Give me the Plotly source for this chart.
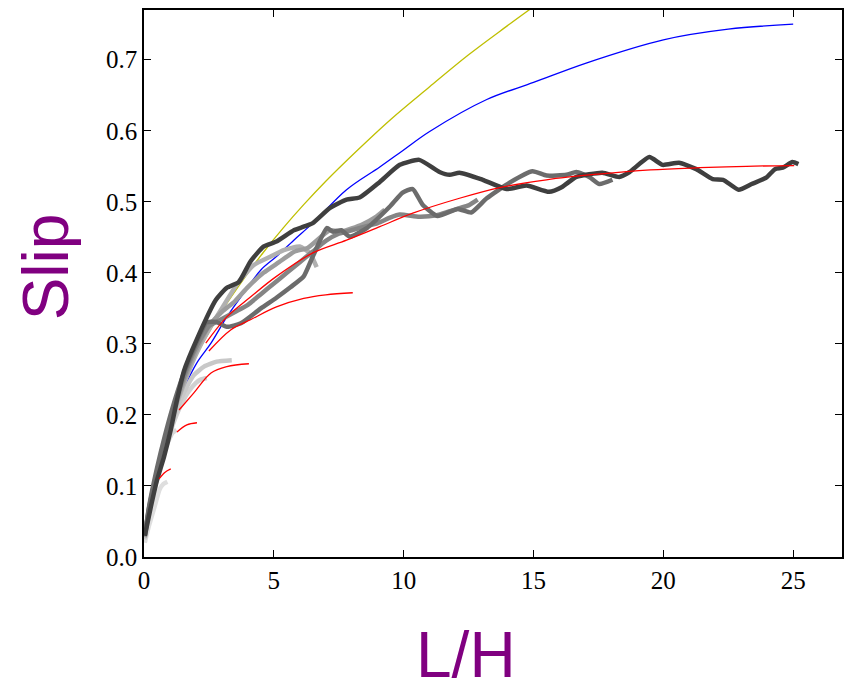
import plotly.graph_objects as go

# ---- data ----
# grey data curves (light -> dark)
g1_x = [0.03, 0.2, 0.4, 0.6, 0.75, 0.9]
g1_y = [0.02, 0.045, 0.07, 0.095, 0.103, 0.106]

g2_x = [0.03, 0.2, 0.4, 0.6, 0.8, 1.0, 1.1, 1.25]
g2_y = [0.025, 0.06, 0.095, 0.125, 0.15, 0.168, 0.175, 0.179]

g3_x = [0.03, 0.2, 0.5, 0.8, 1.1, 1.4, 1.7, 2.0, 2.2, 2.42]
g3_y = [0.025, 0.065, 0.11, 0.15, 0.185, 0.212, 0.232, 0.245, 0.25, 0.252]

g4_x = [0.03, 0.2, 0.5, 0.8, 1.1, 1.4, 1.7, 1.92, 2.31, 2.8, 3.38]
g4_y = [0.025, 0.065, 0.115, 0.155, 0.19, 0.22, 0.243, 0.256, 0.268, 0.275, 0.277]

g5_x = [0.03, 0.2, 0.5, 0.8, 1.1, 1.5, 2.0, 2.5, 3.0, 3.6, 4.23, 4.88, 5.38, 6.0, 6.38, 6.65]
g5_y = [0.028, 0.068, 0.118, 0.16, 0.198, 0.24, 0.285, 0.32, 0.35, 0.385, 0.411, 0.423, 0.432, 0.437, 0.428, 0.408]

g6_x = [0.03, 0.2, 0.5, 0.8, 1.1, 1.5, 2.0, 2.5, 3.0, 3.5, 4.0, 4.6, 5.2, 5.8, 6.3, 7.15, 7.6, 8.4, 8.9, 9.27]
g6_y = [0.028, 0.068, 0.118, 0.16, 0.2, 0.245, 0.29, 0.325, 0.345, 0.36, 0.38, 0.4, 0.415, 0.43, 0.435, 0.46, 0.458, 0.468, 0.478, 0.489]

gB_x = [0.03, 0.2, 0.5, 0.8, 1.1, 1.5, 2.0, 2.5, 3.0, 3.5, 4.0, 4.5, 5.0, 5.5, 6.0, 6.5, 7.0, 7.5, 8.0, 8.5, 9.0, 9.5, 9.85, 10.6, 11.27, 12.15, 12.5, 12.85]
gB_y = [0.03, 0.07, 0.12, 0.165, 0.205, 0.25, 0.295, 0.325, 0.335, 0.345, 0.355, 0.37, 0.385, 0.4, 0.415, 0.43, 0.445, 0.455, 0.46, 0.465, 0.47, 0.478, 0.482, 0.479, 0.481, 0.491, 0.495, 0.503]

gA_x = [0.03, 0.2, 0.5, 0.8, 1.1, 1.5, 2.0, 2.4, 2.77, 3.19, 3.73, 4.5, 5.1, 5.65, 6.15, 6.5, 7.04, 7.27, 7.6, 7.92, 8.58, 9.46, 9.96, 10.35, 10.73, 11.3, 12.08, 12.6, 13.2, 14.08, 14.96, 15.5, 16.27, 16.65, 17.15, 17.54, 18.04]
gA_y = [0.03, 0.072, 0.125, 0.17, 0.21, 0.255, 0.3, 0.33, 0.331, 0.324, 0.329, 0.35, 0.365, 0.38, 0.395, 0.423, 0.463, 0.458, 0.46, 0.451, 0.463, 0.493, 0.513, 0.518, 0.496, 0.48, 0.49, 0.485, 0.505, 0.527, 0.543, 0.537, 0.538, 0.542, 0.535, 0.525, 0.531]

gD_x = [0.03, 0.26, 0.5, 0.77, 1.03, 1.27, 1.54, 2.03, 2.77, 3.19, 3.65, 4.1, 4.6, 5.1, 5.77, 6.15, 6.5, 7.15, 7.8, 8.3, 9.08, 9.85, 10.6, 11.38, 11.77, 12.15, 13.04, 13.96, 14.73, 15.6, 16.1, 16.65, 17.65, 18.3, 18.7, 19.46, 19.97, 20.6, 21.27, 21.9, 22.3, 22.9, 23.4, 23.96, 24.3, 24.6, 24.97, 25.2]
gD_y = [0.03, 0.07, 0.108, 0.141, 0.179, 0.221, 0.262, 0.306, 0.362, 0.379, 0.387, 0.416, 0.437, 0.444, 0.46, 0.465, 0.47, 0.491, 0.503, 0.506, 0.528, 0.552, 0.559, 0.542, 0.538, 0.541, 0.531, 0.518, 0.523, 0.514, 0.521, 0.535, 0.541, 0.535, 0.542, 0.563, 0.552, 0.555, 0.546, 0.532, 0.531, 0.517, 0.525, 0.534, 0.546, 0.548, 0.556, 0.553]

grey_series = [
    (g1_x, g1_y, "#dedede"),
    (g2_x, g2_y, "#d8d8d8"),
    (g3_x, g3_y, "#d0d0d0"),
    (g4_x, g4_y, "#c8c8c8"),
    (g5_x, g5_y, "#b0b0b0"),
    (g6_x, g6_y, "#9c9c9c"),
    (gB_x, gB_y, "#858585"),
    (gA_x, gA_y, "#6c6c6c"),
    (gD_x, gD_y, "#3f3f3f"),
]

# red model curves
r1_x = [0.58, 0.8, 1.03]
r1_y = [0.110, 0.119, 0.124]
r2_x = [1.27, 1.65, 2.04]
r2_y = [0.176, 0.186, 0.189]
r3_x = [1.35, 1.92, 2.58, 3.19, 4.04]
r3_y = [0.207, 0.231, 0.259, 0.268, 0.272]
r4_x = [2.5, 3.35, 4.1, 5.1, 6.15, 7.0, 8.04]
r4_y = [0.29, 0.32, 0.334, 0.352, 0.364, 0.369, 0.372]
r5_x = [2.38, 3.19, 4.1, 5.1, 6.5, 7.8, 9.08, 10.35, 12.15, 13.7, 15.5, 17.5, 19.5, 21.4, 23.2, 25.04]
r5_y = [0.301, 0.338, 0.366, 0.395, 0.428, 0.446, 0.465, 0.484, 0.505, 0.52, 0.531, 0.539, 0.545, 0.548, 0.550, 0.551]
red_series = [(r1_x, r1_y), (r2_x, r2_y), (r3_x, r3_y), (r4_x, r4_y), (r5_x, r5_y)]

# blue model curve
b_x = [1.5, 2.03, 2.58, 3.19, 3.85, 4.5, 5.1, 5.77, 6.5, 7.8, 9.08, 9.96, 11.0, 13.2, 15.0, 17.0, 20.0, 22.5, 25.0]
b_y = [0.235, 0.273, 0.301, 0.338, 0.372, 0.404, 0.423, 0.446, 0.470, 0.517, 0.549, 0.572, 0.599, 0.644, 0.668, 0.695, 0.728, 0.743, 0.750]

# yellow model curve
y_x = [1.5, 2.0, 2.5, 3.08, 3.85, 4.6, 5.38, 6.15, 7.0, 8.23, 9.5, 11.0, 12.5, 14.0, 14.9]
y_y = [0.245, 0.283, 0.316, 0.351, 0.392, 0.429, 0.464, 0.496, 0.529, 0.573, 0.616, 0.662, 0.707, 0.748, 0.772]

x_ticks = [0, 5, 10, 15, 20, 25]
y_ticks = [0.0, 0.1, 0.2, 0.3, 0.4, 0.5, 0.6, 0.7]
y_tick_text = ["0.0", "0.1", "0.2", "0.3", "0.4", "0.5", "0.6", "0.7"]

fig = go.Figure()
# model curves blue / yellow underneath
fig.add_trace(go.Scatter(x=b_x, y=b_y, mode="lines",
                         line=dict(color="#0000ff", width=1.3, shape="spline"),
                         hoverinfo="skip", showlegend=False))
fig.add_trace(go.Scatter(x=y_x, y=y_y, mode="lines",
                         line=dict(color="#bfbf00", width=1.3, shape="spline"),
                         hoverinfo="skip", showlegend=False))
for xs, ys, col in grey_series:
    fig.add_trace(go.Scatter(x=xs, y=ys, mode="lines",
                             line=dict(color=col, width=4.5, shape="spline", smoothing=0.5),
                             hoverinfo="skip", showlegend=False))
for xs, ys in red_series:
    fig.add_trace(go.Scatter(x=xs, y=ys, mode="lines",
                             line=dict(color="#ff0000", width=1.3, shape="spline"),
                             hoverinfo="skip", showlegend=False))

axis_common = dict(showgrid=False, zeroline=False, showline=True, linecolor="black",
                   linewidth=1.5, mirror="allticks", ticks="inside", ticklen=7,
                   tickwidth=1, tickcolor="black",
                   tickfont=dict(family="Liberation Serif", size=25, color="black"))
fig.update_xaxes(range=[0, 26.88], tickvals=x_ticks, ticktext=[str(v) for v in x_ticks], **axis_common)
fig.update_yaxes(range=[0, 0.770], tickvals=y_ticks, ticktext=y_tick_text, **axis_common)

fig.add_annotation(text="L/H", xref="paper", yref="paper", x=0.461, y=-0.180,
                   xanchor="center", yanchor="middle", showarrow=False,
                   font=dict(family="Liberation Sans", size=64, color="#800080"))
fig.add_annotation(text="Slip", xref="paper", yref="paper", x=-0.140, y=0.530,
                   xanchor="center", yanchor="middle", showarrow=False, textangle=-90,
                   font=dict(family="Liberation Sans", size=64, color="#800080"))

fig.update_layout(width=844, height=686, paper_bgcolor="white", plot_bgcolor="white",
                  margin=dict(l=144, r=0, t=10, b=129))
# remove the default page margin so the figure fills the window exactly
fig.write_html("out.html", config={"displayModeBar": False},
               post_script="document.body.style.margin='0';document.body.style.overflow='hidden';")
